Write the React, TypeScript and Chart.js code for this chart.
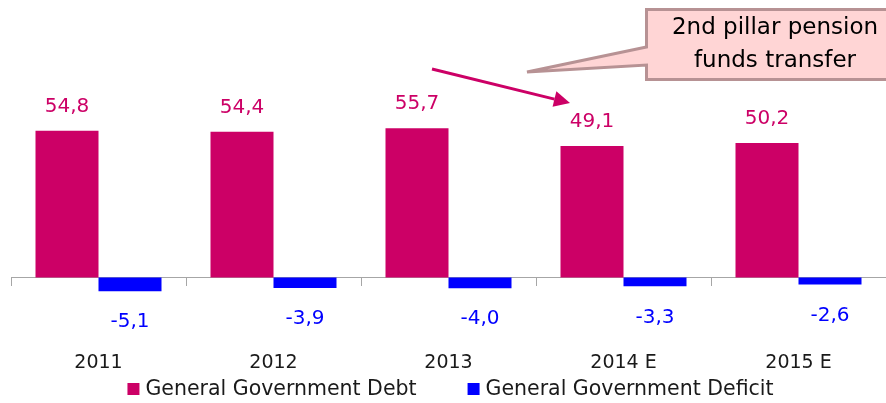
import React, { useEffect, useRef } from "react";
import { Chart, registerables } from "chart.js";

Chart.register(...registerables);

const categories = ["2011", "2012", "2013", "2014 E", "2015 E"];
const debtValues = [54.8, 54.4, 55.7, 49.1, 50.2];
const deficitValues = [-5.1, -3.9, -4.0, -3.3, -2.6];
const seriesNames = ["General Government Debt", "General Government Deficit"];
const calloutLines = ["2nd pillar pension", "funds transfer"];

const DEBT = "#CC0066";
const DEFICIT = "#0000FF";
const FONT = "'DejaVu Sans', sans-serif";

const fmt = (v: number) => v.toFixed(1).replace(".", ",");

const dataLabelPlugin = {
  id: "dataLabels",
  afterDatasetsDraw(chart: any) {
    const ctx = chart.ctx;
    ctx.save();
    ctx.font = `20px ${FONT}`;
    ctx.textAlign = "center";
    ctx.textBaseline = "middle";
    chart.data.datasets.forEach((ds: any, di: number) => {
      const meta = chart.getDatasetMeta(di);
      meta.data.forEach((el: any, i: number) => {
        const v = ds.data[i] as number;
        ctx.fillStyle = ds.backgroundColor;
        const y = v >= 0 ? el.y - 24 : el.y + 31;
        ctx.fillText(fmt(v), el.x, y);
      });
    });
    ctx.restore();
  },
};

const legendPlugin = {
  id: "customLegend",
  afterDraw(chart: any) {
    const ctx = chart.ctx;
    ctx.save();
    ctx.font = `20.5px ${FONT}`;
    ctx.textBaseline = "middle";
    ctx.textAlign = "left";
    const box = 12;
    const gap = 6;
    const itemGap = 51;
    const items = chart.data.datasets.map((ds: any) => ({
      label: ds.label,
      color: ds.backgroundColor,
      w: ctx.measureText(ds.label).width,
    }));
    const total = items.reduce((s: number, it: any) => s + box + gap + it.w, 0) + itemGap * (items.length - 1);
    const ca = chart.chartArea;
    let x = (ca.left + ca.right) / 2 + 2 - total / 2;
    const yc = 389;
    items.forEach((it: any) => {
      ctx.fillStyle = it.color;
      ctx.fillRect(x, yc - 6, box, box);
      ctx.fillStyle = "#1A1A1A";
      ctx.fillText(it.label, x + box + gap, yc + 1);
      x += box + gap + it.w + itemGap;
    });
    ctx.restore();
  },
};

const calloutPlugin = {
  id: "callout",
  afterDraw(chart: any) {
    const ctx = chart.ctx;
    ctx.save();
    ctx.beginPath();
    ctx.moveTo(646.5, 9.5);
    ctx.lineTo(892, 9.5);
    ctx.lineTo(892, 79.5);
    ctx.lineTo(646.5, 79.5);
    ctx.lineTo(646.5, 65);
    ctx.lineTo(527, 72);
    ctx.lineTo(646.5, 47);
    ctx.closePath();
    ctx.fillStyle = "#FFD5D5";
    ctx.fill();
    ctx.lineWidth = 3;
    ctx.lineJoin = "miter";
    ctx.strokeStyle = "#B79294";
    ctx.stroke();
    ctx.fillStyle = "#000000";
    ctx.font = `23px ${FONT}`;
    ctx.textAlign = "center";
    ctx.textBaseline = "middle";
    ctx.fillText(calloutLines[0], 775, 28);
    ctx.fillText(calloutLines[1], 775, 61);

    const meta = chart.getDatasetMeta(0);
    const el: any = meta.data[3];
    if (el) {
      const tx = el.x - 22;
      const ty = el.y - 43;
      const sx = 432;
      const sy = 69;
      const ang = Math.atan2(ty - sy, tx - sx);
      const len = 16;
      const hw = 8;
      const bx = tx - Math.cos(ang) * len;
      const by = ty - Math.sin(ang) * len;
      ctx.strokeStyle = DEBT;
      ctx.fillStyle = DEBT;
      ctx.lineWidth = 3;
      ctx.beginPath();
      ctx.moveTo(sx, sy);
      ctx.lineTo(bx, by);
      ctx.stroke();
      ctx.beginPath();
      ctx.moveTo(tx, ty);
      ctx.lineTo(bx + Math.sin(ang) * hw, by - Math.cos(ang) * hw);
      ctx.lineTo(bx - Math.sin(ang) * hw, by + Math.cos(ang) * hw);
      ctx.closePath();
      ctx.fill();
    }
    ctx.restore();
  },
};

export default function App() {
  const ref = useRef<HTMLCanvasElement | null>(null);
  useEffect(() => {
    if (!ref.current) return;
    const chart = new Chart(ref.current, {
      type: "bar",
      data: {
        labels: categories,
        datasets: [
          {
            label: seriesNames[0],
            data: debtValues,
            backgroundColor: DEBT,
            borderWidth: 0,
            categoryPercentage: 0.72,
            barPercentage: 1,
          },
          {
            label: seriesNames[1],
            data: deficitValues,
            backgroundColor: DEFICIT,
            borderWidth: 0,
            categoryPercentage: 0.72,
            barPercentage: 1,
          },
        ],
      },
      options: {
        animation: false,
        responsive: false,
        devicePixelRatio: 1,
        layout: { padding: { left: 11, right: 0, top: 89.9, bottom: 104.06 } },
        plugins: {
          legend: { display: false },
          tooltip: { enabled: false },
          title: { display: false },
        },
        scales: {
          x: {
            position: { y: 0 } as any,
            grid: {
              display: true,
              drawOnChartArea: false,
              drawTicks: true,
              tickLength: 8,
              color: "#A6A6A6",
              lineWidth: 1,
              offset: true,
            },
            border: { display: true, color: "#A6A6A6", width: 1 },
            ticks: {
              color: "#1A1A1A",
              font: { family: FONT, size: 19, lineHeight: "156px" },
              padding: 0,
              maxRotation: 0,
              autoSkip: false,
            },
          },
          y: { display: false, min: -8, max: 70 },
        },
      },
      plugins: [dataLabelPlugin, legendPlugin, calloutPlugin],
    });
    return () => chart.destroy();
  }, []);
  return (
    <div style={{ position: "absolute", left: 0, top: 0, width: 886, height: 403, background: "#FFFFFF" }}>
      <canvas ref={ref} width={886} height={403} style={{ display: "block" }} />
    </div>
  );
}
